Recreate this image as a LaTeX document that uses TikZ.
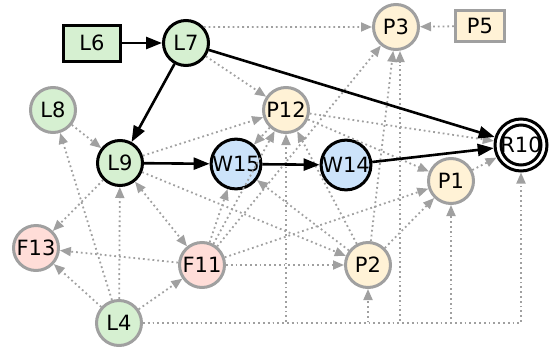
\documentclass[tikz,border=0pt]{standalone}
\usepackage{fontspec}
\setmainfont{DejaVu Sans}
\usetikzlibrary{arrows.meta}
\definecolor{lgreen}{RGB}{214,240,209}
\definecolor{lblue}{RGB}{204,227,250}
\definecolor{lyellow}{RGB}{255,242,214}
\definecolor{lpink}{RGB}{255,221,216}
\definecolor{egray}{RGB}{160,160,160}
\begin{document}
\begin{tikzpicture}[x=1pt,y=-1pt,
  every node/.style={font=\fontsize{21}{24}\selectfont, inner sep=0pt},
  cnode/.style={circle, minimum size=45pt, line width=3pt},
  strongnode/.style={cnode, draw=black},
  weaknode/.style={cnode, draw=egray},
  greenfill/.style={fill=lgreen},
  bluefill/.style={fill=lblue},
  yellowfill/.style={fill=lyellow},
  pinkfill/.style={fill=lpink},
  mainedge/.style={draw=black, line width=2.6pt, -{Triangle[length=16pt,width=12pt]}},
  dotedge/.style={draw=egray, line width=1.8pt, dash pattern=on 1.8pt off 3pt, -{Triangle[length=11pt,width=9pt]}},
  dotboth/.style={dotedge, {Triangle[length=11pt,width=9pt]}-{Triangle[length=11pt,width=9pt]}}
]
\useasboundingbox (0,0) rectangle (553,351);

% nodes
\node[draw=black, line width=3pt, fill=lgreen, minimum width=57pt, minimum height=36pt] (L6) at (92,43) {L6};
\node[strongnode, greenfill] (L7) at (186,43) {L7};
\node[weaknode, yellowfill] (P3) at (396,27) {P3};
\node[draw=egray, line width=3pt, fill=lyellow, minimum width=49pt, minimum height=31pt] (P5) at (480,26) {P5};
\node[weaknode, greenfill] (L8) at (53,110) {L8};
\node[weaknode, yellowfill] (P12) at (286,110) {P12};
\node[circle, draw=black, line width=3pt, fill=white, minimum size=52pt] (R10) at (521,145) {R10};
\draw[line width=3pt] (R10) circle[radius=20pt];
\node[strongnode, greenfill] (L9) at (120,163) {L9};
\node[strongnode, bluefill] (W15) at (236,164) {W15};
\node[strongnode, bluefill] (W14) at (346,165) {W14};
\node[weaknode, yellowfill] (P1) at (451,181) {P1};
\node[weaknode, pinkfill] (F13) at (36,248) {F13};
\node[weaknode, pinkfill] (F11) at (202,265) {F11};
\node[weaknode, yellowfill] (P2) at (368,265) {P2};
\node[weaknode, greenfill] (L4) at (119,323) {L4};

% dotted edges
\draw[dotedge] (L7.42) -- (P3);
\draw[dotedge] (P5) -- (P3);
\draw[dotedge] (L7) -- (P12);
\draw[dotedge] (L8) -- (L9);
\draw[dotedge] (L9) -- (P12);
\draw[dotedge] (L9) -- (F13);
\draw[dotboth] (L9) -- (F11);
\draw[dotedge] (L9) -- (P2);
\draw[dotedge] (L4) -- (L8);
\draw[dotedge] (L4) -- (L9);
\draw[dotedge] (L4) -- (F13);
\draw[dotedge] (L4) -- (F11);
\draw[dotedge] (F11) -- (F13);
\draw[dotedge] (F11) -- (W15);
\draw[dotedge] (F11) -- (P12);
\draw[dotedge] (F11) -- (P3);
\draw[dotedge] (F11) -- (P2);
\draw[dotedge] (F11) -- (P1);
\draw[dotedge] (P12) -- (W15);
\draw[dotedge] (P12) -- (R10);
\draw[dotedge] (P12) -- (P1);
\draw[dotedge] (P2) -- (W15);
\draw[dotedge] (P2) -- (P12);
\draw[dotedge] (P2) -- (P3);
\draw[dotedge] (P2) -- (P1);
\draw[dotedge] (P1) -- (R10);
% orthogonal routes from L4
\draw[dotedge] (L4.east) -| (P12.south);
\draw[dotedge] (L4.east) -| (P2.south);
\draw[dotedge] (L4.east) -| ([xshift=4pt]P3.south);
\draw[dotedge] (L4.east) -| (P1.south);
\draw[dotedge] (L4.east) -| (R10.south);

% main edges
\draw[mainedge] (L6) -- (L7);
\draw[mainedge] (L7) -- (L9);
\draw[mainedge] (L7) -- (R10);
\draw[mainedge] (L9) -- (W15);
\draw[mainedge] (W15) -- (W14);
\draw[mainedge] (W14) -- (R10);
\end{tikzpicture}
\end{document}
